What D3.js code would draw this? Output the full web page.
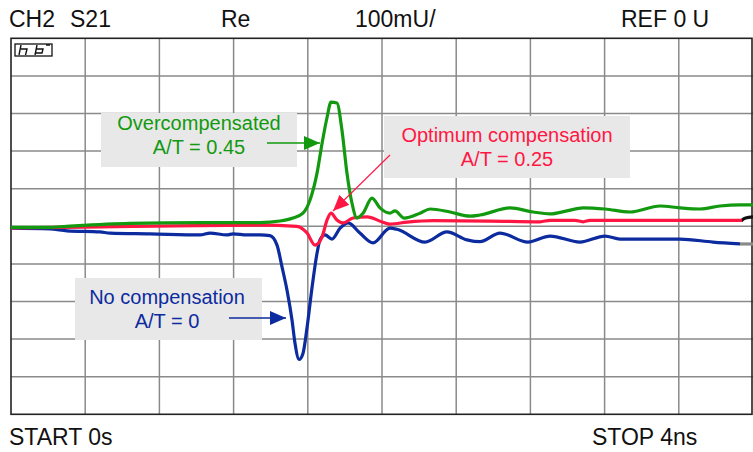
<!DOCTYPE html>
<html>
<head>
<meta charset="utf-8">
<script src="https://cdn.jsdelivr.net/npm/d3@7"></script>
<style>
  body { margin: 0; background: #fff; }
  svg { display: block; font-family: "Liberation Sans", Arial, sans-serif; }
</style>
</head>
<body>
<script>
const w = 753;
const h = 452;

// Data: time in ns, value in mU

const gridTimes = [0, 0.4, 0.8, 1.2, 1.6, 2.0, 2.4, 2.8, 3.2, 3.6, 4.0];
const gridLevels = [-500, -400, -300, -200, -100, 0, 100, 200, 300, 400, 500];

const overcomp = [
  [0, -3], [0.2, -3], [0.3, 0], [0.64, 8], [1.02, 10], [1.342, 10], [1.45, 14],
  [1.52, 22], [1.574, 35], [1.612, 70], [1.65, 142], [1.677, 221], [1.704, 290],
  [1.725, 330], [1.757, 328], [1.784, 256], [1.811, 142], [1.838, 62], [1.865, 22],
  [1.898, 35], [1.946, 75], [1.989, 49], [2.043, 35], [2.07, 41], [2.119, 22],
  [2.205, 35], [2.259, 46], [2.367, 38], [2.474, 27], [2.528, 30], [2.69, 49],
  [2.814, 38], [2.906, 33], [2.997, 41], [3.084, 49], [3.202, 46], [3.337, 38],
  [3.499, 54], [3.606, 49], [3.714, 46], [3.822, 54], [3.93, 57], [4.0, 57]
];

const optimum = [
  [0, -4], [0.4, -2], [1.0, 2], [1.342, 3], [1.541, 0], [1.596, -18], [1.639, -50],
  [1.677, -28], [1.704, 17], [1.725, 35], [1.757, 17], [1.79, 9], [1.844, 22],
  [1.919, 25], [2.005, 11], [2.043, 6], [2.135, 11], [2.275, 15], [2.582, 14],
  [2.852, 12], [2.906, 16], [3.04, 16], [3.084, 12], [3.121, 16], [3.94, 16]
];

const nocomp = [
  [0, -5], [0.21, -7], [0.302, -12], [0.48, -15], [0.534, -18], [0.749, -20],
  [1.019, -23], [1.073, -18], [1.164, -23], [1.197, -20], [1.272, -23], [1.342, -23],
  [1.396, -25], [1.434, -50], [1.461, -108], [1.488, -170], [1.515, -250],
  [1.531, -311], [1.553, -354], [1.574, -338], [1.596, -269], [1.623, -162],
  [1.65, -71], [1.666, -36], [1.693, -23], [1.73, -34], [1.774, -5], [1.817, 9],
  [1.881, -18], [1.952, -44], [2.043, -5], [2.081, -8], [2.232, -42], [2.35, -15],
  [2.458, -36], [2.528, -41], [2.636, -18], [2.787, -42], [2.906, -26], [3.067, -42],
  [3.202, -26], [3.283, -34], [3.606, -34], [3.784, -42], [3.93, -47]
];

// short stored-trace ends at the right edge
const refEndTop = [[3.935, 14], [3.96, 22], [4.0, 25]];
const refEndBottom = [[3.93, -47], [4.0, -47]];

// Scales

const x = d3.scaleLinear().domain([0, 4]).range([11, 753]);
const y = d3.scaleLinear().domain([-500, 500]).range([414.3, 38.3]);

const svg = d3.select("body").append("svg").attr("width", w).attr("height", h);

// Arrow markers

const defs = svg.append("defs");
[["green", "#13990f"], ["red", "#ff1744"], ["blue", "#0c2b9e"]].forEach(([id, c]) => {
  defs
    .append("marker")
    .attr("id", "arrow-" + id)
    .attr("viewBox", "0 0 16 14")
    .attr("refX", 16)
    .attr("refY", 7)
    .attr("markerWidth", 16)
    .attr("markerHeight", 14)
    .attr("markerUnits", "userSpaceOnUse")
    .attr("orient", "auto")
    .append("path")
    .attr("d", "M0,0 L16,7 L0,14 Z")
    .attr("fill", c);
});

// Grid

const grid = svg.append("g");
grid
  .selectAll("line.v")
  .data(gridTimes.slice(1, -1))
  .join("line")
  .attr("x1", (d) => x(d))
  .attr("x2", (d) => x(d))
  .attr("y1", y(500))
  .attr("y2", y(-500))
  .attr("stroke", "#8a8a8a")
  .attr("stroke-width", 1.5);
grid
  .selectAll("line.h")
  .data(gridLevels.slice(1, -1))
  .join("line")
  .attr("x1", x(0))
  .attr("x2", x(4))
  .attr("y1", (d) => y(d))
  .attr("y2", (d) => y(d))
  .attr("stroke", "#8a8a8a")
  .attr("stroke-width", 1.5);
grid
  .append("rect")
  .attr("x", x(0))
  .attr("y", y(500))
  .attr("width", x(4) - x(0) - 1)
  .attr("height", y(-500) - y(500))
  .attr("fill", "none")
  .attr("stroke", "#222")
  .attr("stroke-width", 1.6);

// hp logo

const logo = svg.append("g").attr("transform", "translate(15,44)");
logo.append("rect").attr("width", 37).attr("height", 12).attr("fill", "none").attr("stroke", "#111").attr("stroke-width", 1.3);
logo.append("path").attr("d", "M6,1 L4,11 M6,5 L12,5 L10.5,11 M22,1 L20,11 M21.5,5 L28,5 L27,9 L21,9 M31,1 L35,1")
  .attr("fill", "none").attr("stroke", "#111").attr("stroke-width", 1.4);

// Annotation boxes

const notes = [
  { lines: ["Overcompensated", "A/T = 0.45"], color: "#13990f", box: [101, 113, 196, 54], cx: 199, base: [130, 154] },
  { lines: ["Optimum compensation", "A/T = 0.25"], color: "#ff1744", box: [384, 116, 246, 62], cx: 507, base: [142, 166] },
  { lines: ["No compensation", "A/T = 0"], color: "#0c2b9e", box: [75, 278, 187, 62], cx: 167, base: [304, 328] }
];

const noteG = svg.append("g").selectAll("g").data(notes).join("g");
noteG
  .append("rect")
  .attr("x", (d) => d.box[0])
  .attr("y", (d) => d.box[1])
  .attr("width", (d) => d.box[2])
  .attr("height", (d) => d.box[3])
  .attr("fill", "#e8e8e8");
noteG.each(function (d) {
  d3.select(this)
    .selectAll("text")
    .data(d.lines)
    .join("text")
    .attr("x", d.cx)
    .attr("y", (t, i) => d.base[i])
    .attr("text-anchor", "middle")
    .attr("font-size", 20)
    .attr("fill", d.color)
    .text((t) => t);
});

// Traces

const line = d3
  .line()
  .x((d) => x(d[0]))
  .y((d) => y(d[1]))
  .curve(d3.curveMonotoneX);

const traces = [
  { data: refEndBottom, color: "#8a8a8a" },
  { data: nocomp, color: "#0c2b9e" },
  { data: refEndTop, color: "#111" },
  { data: optimum, color: "#ff1744" },
  { data: overcomp, color: "#13990f" }
];

svg
  .append("g")
  .selectAll("path")
  .data(traces)
  .join("path")
  .attr("d", (d) => line(d.data))
  .attr("fill", "none")
  .attr("stroke", (d) => d.color)
  .attr("stroke-width", 3.2)
  .attr("stroke-linejoin", "round");

// Arrows

const arrows = [
  { from: [267, 143], to: [320, 143], id: "green", color: "#13990f", width: 1.6 },
  { from: [390, 155], to: [333, 211], id: "red", color: "#ff1744", width: 1.1 },
  { from: [229, 318], to: [286, 318], id: "blue", color: "#0c2b9e", width: 1.6 }
];

svg
  .append("g")
  .selectAll("line")
  .data(arrows)
  .join("line")
  .attr("x1", (d) => d.from[0])
  .attr("y1", (d) => d.from[1])
  .attr("x2", (d) => d.to[0])
  .attr("y2", (d) => d.to[1])
  .attr("stroke", (d) => d.color)
  .attr("stroke-width", (d) => d.width)
  .attr("marker-end", (d) => "url(#arrow-" + d.id + ")");

// Header and footer

const labels = [
  { text: "CH2", x: 9, y: 27 },
  { text: "S21", x: 70, y: 27 },
  { text: "Re", x: 221, y: 27 },
  { text: "100mU/", x: 355, y: 27 },
  { text: "REF 0 U", x: 621, y: 27 },
  { text: "START 0s", x: 9, y: 445 },
  { text: "STOP 4ns", x: 592, y: 445 }
];

svg
  .append("g")
  .selectAll("text")
  .data(labels)
  .join("text")
  .attr("x", (d) => d.x)
  .attr("y", (d) => d.y)
  .attr("font-size", 23)
  .attr("fill", "#111")
  .text((d) => d.text);
</script>
</body>
</html>
